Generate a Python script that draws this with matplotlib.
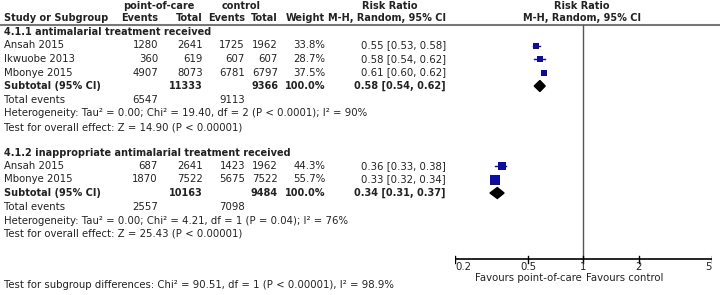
import matplotlib
matplotlib.use('Agg')
import matplotlib.pyplot as plt
from matplotlib.patches import Polygon

# datos del forest plot
studies_g1 = ['Ansah 2015', 'Ikwuobe 2013', 'Mbonye 2015']
poc_events_g1 = [1280, 360, 4907]
poc_total_g1 = [2641, 619, 8073]
ctl_events_g1 = [1725, 607, 6781]
ctl_total_g1 = [1962, 607, 6797]
weight_g1 = [33.8, 28.7, 37.5]
rr_g1 = [0.55, 0.58, 0.61]
lo_g1 = [0.53, 0.54, 0.60]
hi_g1 = [0.58, 0.62, 0.62]
sub_g1 = dict(poc_total=11333, ctl_total=9366, poc_events=6547, ctl_events=9113,
              rr=0.58, lo=0.54, hi=0.62)

studies_g2 = ['Ansah 2015', 'Mbonye 2015']
poc_events_g2 = [687, 1870]
poc_total_g2 = [2641, 7522]
ctl_events_g2 = [1423, 5675]
ctl_total_g2 = [1962, 7522]
weight_g2 = [44.3, 55.7]
rr_g2 = [0.36, 0.33]
lo_g2 = [0.33, 0.32]
hi_g2 = [0.38, 0.34]
sub_g2 = dict(poc_total=10163, ctl_total=9484, poc_events=2557, ctl_events=7098,
              rr=0.34, lo=0.31, hi=0.37)

group_titles = ['4.1.1 antimalarial treatment received',
                '4.1.2 inappropriate antimalarial treatment received']
het_texts = ['Heterogeneity: Tau² = 0.00; Chi² = 19.40, df = 2 (P < 0.0001); I² = 90%',
             'Heterogeneity: Tau² = 0.00; Chi² = 4.21, df = 1 (P = 0.04); I² = 76%']
effect_texts = ['Test for overall effect: Z = 14.90 (P < 0.00001)',
                'Test for overall effect: Z = 25.43 (P < 0.00001)']
subgroup_text = 'Test for subgroup differences: Chi² = 90.51, df = 1 (P < 0.00001), I² = 98.9%'
ticks = [0.2, 0.5, 1, 2, 5]

W, H = 720, 295
FS = 7.3
FSB = 7
TXT = '#222222'
BLUE = '#0c0ca0'

fig = plt.figure(figsize=(W / 100, H / 100), dpi=100)
bg = fig.add_axes([0, 0, 1, 1])
bg.set_xlim(0, W)
bg.set_ylim(H, 0)
bg.axis('off')

x0, x1 = 455, 711.7
fp = fig.add_axes([x0 / W, 0, (x1 - x0) / W, 1])
fp.set_xscale('log')
fp.set_xlim(0.2, 5)
fp.set_ylim(H, 0)
fp.axis('off')

def t(x, y, s, ha='left', bold=False):
    bg.text(x, y, s, ha=ha, va='center', fontsize=FSB if bold else FS, color=TXT,
            fontweight='bold' if bold else 'normal')

# encabezado
t(159, 6, 'point-of-care', ha='center', bold=True)
t(241, 6, 'control', ha='center', bold=True)
t(390, 6, 'Risk Ratio', ha='center', bold=True)
t(582, 6, 'Risk Ratio', ha='center', bold=True)
t(4, 18, 'Study or Subgroup', bold=True)
t(158, 18, 'Events', ha='right', bold=True)
t(203, 18, 'Total', ha='right', bold=True)
t(245, 18, 'Events', ha='right', bold=True)
t(278, 18, 'Total', ha='right', bold=True)
t(325, 18, 'Weight', ha='right', bold=True)
t(446, 18, 'M-H, Random, 95% CI', ha='right', bold=True)
t(582, 18, 'M-H, Random, 95% CI', ha='center', bold=True)
bg.plot([0, W], [25, 25], color='#777777', lw=1.5)

groups = [
    (studies_g1, poc_events_g1, poc_total_g1, ctl_events_g1, ctl_total_g1,
     weight_g1, rr_g1, lo_g1, hi_g1, sub_g1, 32),
    (studies_g2, poc_events_g2, poc_total_g2, ctl_events_g2, ctl_total_g2,
     weight_g2, rr_g2, lo_g2, hi_g2, sub_g2, 152.5),
]
step = 13.5
for gi, (st, pe, pt, ce, ct, w, rr, lo, hi, sub, ytop) in enumerate(groups):
    t(4, ytop, group_titles[gi], bold=True)
    y = ytop
    for i in range(len(st)):
        y = ytop + step * (i + 1)
        t(4, y, st[i])
        t(158, y, str(pe[i]), ha='right')
        t(203, y, str(pt[i]), ha='right')
        t(245, y, str(ce[i]), ha='right')
        t(278, y, str(ct[i]), ha='right')
        t(325, y, f'{w[i]:.1f}%', ha='right')
        t(446, y, f'{rr[i]:.2f} [{lo[i]:.2f}, {hi[i]:.2f}]', ha='right')
        fp.plot([lo[i], hi[i]], [y, y], color=BLUE, lw=1)
        # lado del cuadrado segun el peso
        fp.plot(rr[i], y, 's', color=BLUE, ms=(w[i] * 0.16 + 0.5) * 0.72, mew=0)
    y += step
    t(4, y, 'Subtotal (95% CI)', bold=True)
    t(203, y, str(sub['poc_total']), ha='right', bold=True)
    t(278, y, str(sub['ctl_total']), ha='right', bold=True)
    t(325, y, '100.0%', ha='right', bold=True)
    t(446, y, f"{sub['rr']:.2f} [{sub['lo']:.2f}, {sub['hi']:.2f}]", ha='right', bold=True)
    fp.add_patch(Polygon([(sub['lo'], y), (sub['rr'], y - 5.5),
                          (sub['hi'], y), (sub['rr'], y + 5.5)],
                         closed=True, color='black'))
    y += 14
    t(4, y, 'Total events')
    t(158, y, str(sub['poc_events']), ha='right')
    t(245, y, str(sub['ctl_events']), ha='right')
    y += 13.5
    t(4, y, het_texts[gi])
    y += 13.5
    t(4, y, effect_texts[gi])

t(4, 285, subgroup_text)

# eje del forest plot
fp.plot([1, 1], [25, 259], color='#555555', lw=1)
fp.plot([0.2, 5], [259, 259], color='black', lw=1.2)
for v in ticks:
    fp.plot([v, v], [255.5, 262.5], color='black', lw=1)
    lab = f'{v:g}'
    ha = 'left' if v == ticks[0] else ('right' if v == ticks[-1] else 'center')
    fp.text(v, 267, lab, ha=ha, va='center', fontsize=FS, color=TXT)
fp.text(0.98, 278, 'Favours point-of-care', ha='right', va='center', fontsize=FS, color=TXT)
fp.text(1.03, 278, 'Favours control', ha='left', va='center', fontsize=FS, color=TXT)

fig.savefig('out.png', dpi=100)
